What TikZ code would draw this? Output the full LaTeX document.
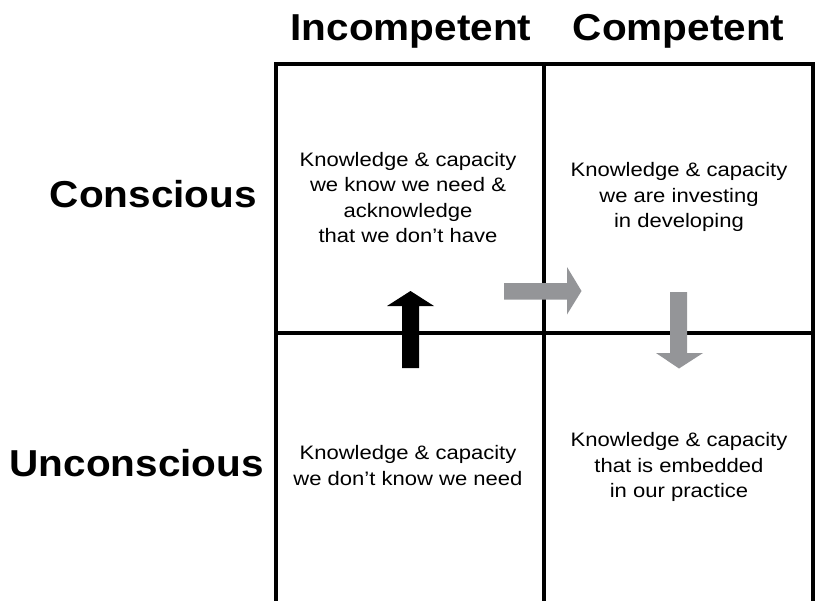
\documentclass[tikz,border=0pt]{standalone}
\usepackage{fontspec}
\setmainfont{Liberation Sans}
\definecolor{arrowgray}{RGB}{148,149,152}
\newcommand{\hdr}[1]{\scalebox{1.08}[1]{\fontsize{37.5}{40}\selectfont\bfseries #1}}
\newcommand{\cellt}[1]{\scalebox{1.13}[1]{\fontsize{19.5}{25.5}\selectfont\setlength{\tabcolsep}{0pt}\begin{tabular}[t]{c}#1\end{tabular}}}
\begin{document}
\begin{tikzpicture}[x=1pt,y=-1pt,
  gridline/.style={line width=4pt,black},
  header/.style={inner sep=0pt,anchor=base},
  celltext/.style={inner sep=0pt,anchor=base},
  grayarrow/.style={fill=arrowgray,draw=none},
  blackarrow/.style={fill=black,draw=none}]
\useasboundingbox (0,0) rectangle (818,600);
% grid
\coordinate (tl) at (276,64);
\coordinate (tm) at (544,64);
\coordinate (tr) at (812.5,64);
\coordinate (ml) at (276,333);
\coordinate (mr) at (812.5,333);
\coordinate (bl) at (276,602);
\coordinate (bm) at (544,602);
\coordinate (br) at (812.5,602);
\draw[gridline] (bl) -- (tl) -- (tr) -- (br);
\draw[gridline] (tm) -- (bm);
\draw[gridline] (ml) -- (mr);
% headers
\node[header] (incomp) at (411,40) {\hdr{Incompetent}};
\node[header] (comp) at (678.5,40.5) {\hdr{Competent}};
\node[header,anchor=base east] (consc) at (257,207) {\hdr{Conscious}};
\node[header,anchor=base east] (uncon) at (264,476) {\hdr{Unconscious}};
% cell texts
\node[celltext] (c11) at (408,166) {\cellt{Knowledge \& capacity\\we know we need \&\\acknowledge\\ that we don’t have}};
\node[celltext] (c12) at (679,176.5) {\cellt{Knowledge \& capacity\\we are investing\\ in developing}};
\node[celltext] (c21) at (408,459.5) {\cellt{Knowledge \& capacity\\we don’t know we need}};
\node[celltext] (c22) at (679,446.5) {\cellt{Knowledge \& capacity\\that is embedded\\ in our practice}};
% arrows
\fill[blackarrow] (402,368) -- (402,306) -- (387,306) -- (410.5,291) -- (434,306) -- (419,306) -- (419,368) -- cycle;
\fill[grayarrow] (504,283) -- (567,283) -- (567,267) -- (581.5,291) -- (567,314.5) -- (567,299.5) -- (504,299.5) -- cycle;
\fill[grayarrow] (670,292) -- (687,292) -- (687,353) -- (703,353) -- (679,368.5) -- (656,353) -- (670,353) -- cycle;
\end{tikzpicture}
\end{document}
